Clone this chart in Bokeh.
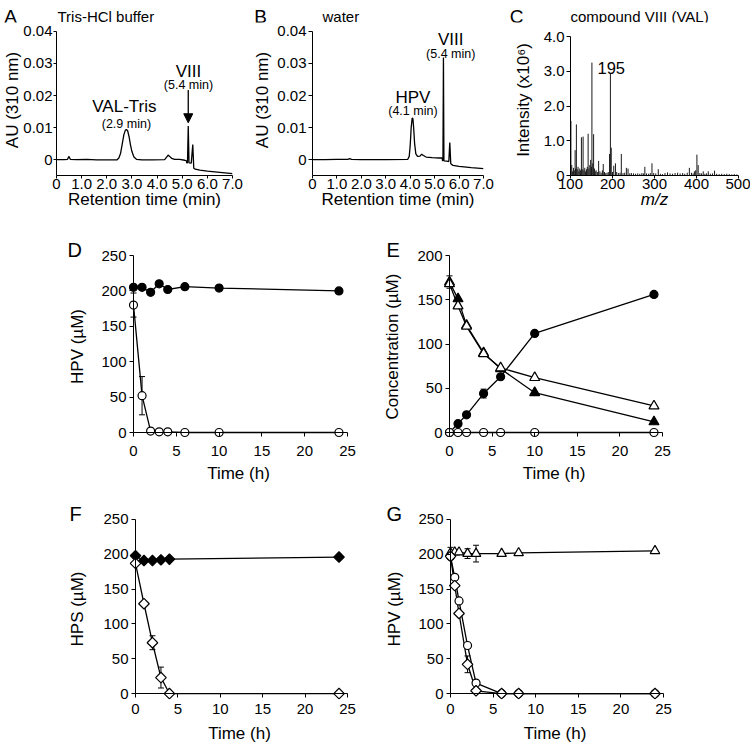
from bokeh.plotting import figure
from bokeh.layouts import column, row
from bokeh.models import (Range1d, FixedTicker, Label, Arrow, NormalHead,
                          Whisker, TeeHead, ColumnDataSource, LinearAxis)
from bokeh.embed import file_html
from bokeh.resources import INLINE

FONT = "Liberation Sans"
TICK_FS = "15px"
TITLE_FS = "17px"
LETTER_FS = "20px"
STRIP_LETTER_FS = "19px"

# ---------------- data ----------------
# Panel A: HPLC trace, Tris-HCl buffer
A_time = [0.00, 0.30, 0.44, 0.49, 0.55, 0.80, 1.20, 1.60, 2.00, 2.40,
          2.48, 2.55, 2.61, 2.68, 2.74, 2.78, 2.83, 2.89, 2.94, 3.00,
          3.08, 3.18, 3.40, 3.80, 4.30, 4.38, 4.44, 4.50, 4.58, 4.70,
          4.90, 5.10, 5.17, 5.18, 5.21, 5.24, 5.27, 5.36, 5.42, 5.46,
          5.52, 5.70, 6.00, 6.50, 7.00]
A_au = [0.0000, 0.0000, 0.0001, 0.0010, 0.0001, 0.0000, 0.0001, -0.0001, -0.0001, -0.0001,
        0.0005, 0.0020, 0.0047, 0.0078, 0.0092, 0.0094, 0.0090, 0.0070, 0.0047, 0.0025,
        0.0008, 0.0001, -0.0001, -0.0001, 0.0000, 0.0008, 0.0014, 0.0010, 0.0004, 0.0001,
        0.0001, -0.0002, -0.0004, -0.0010, -0.0010, 0.0105, -0.0010, -0.0011, 0.0047, -0.0027,
        -0.0030, -0.0033, -0.0036, -0.0040, -0.0044]

# Panel B: HPLC trace, water
B_time = [0.00, 0.50, 1.00, 1.45, 1.52, 1.60, 2.00, 3.00, 3.90, 3.96,
          4.00, 4.04, 4.08, 4.11, 4.14, 4.18, 4.23, 4.30, 4.40, 4.47,
          4.54, 4.65, 4.90, 5.20, 5.31, 5.32, 5.34, 5.36, 5.38, 5.50,
          5.58, 5.62, 5.66, 5.75, 6.00, 6.50, 7.00]
B_au = [0.0000, 0.0000, 0.0001, 0.0001, 0.0003, 0.0001, 0.0000, 0.0000, 0.0001, 0.0010,
        0.0045, 0.0100, 0.0130, 0.0128, 0.0100, 0.0050, 0.0018, 0.0010, 0.0011, 0.0017,
        0.0013, 0.0008, 0.0006, 0.0005, 0.0005, -0.0003, -0.0003, 0.0319, -0.0004, -0.0005,
        -0.0006, 0.0053, -0.0013, -0.0018, -0.0021, -0.0025, -0.0028]

# Panel C: mass spectrum of compound VIII (m/z, intensity x1e6)
C_mz = [101, 103, 105, 107, 109, 111, 112, 114, 116, 118,
        120, 122, 124, 126, 128, 130, 132, 134, 136, 138,
        140, 142, 144, 146, 148, 150, 151, 153, 155, 157,
        159, 161, 164, 167, 170, 173, 176, 178, 181, 184,
        187, 190, 193, 195, 197, 200, 203, 207, 210, 214,
        218, 221, 225, 229, 233, 237, 241, 245, 250, 255,
        260, 265, 270, 274, 277, 281, 286, 290, 294, 298,
        303, 309, 314, 319, 325, 331, 337, 343, 349, 355,
        361, 367, 372, 378, 383, 388, 392, 395, 398, 401,
        404, 408, 412, 416, 420, 424, 428, 433, 438, 443,
        448, 454, 460, 466, 472, 478, 484, 490, 496]
C_int = [1.57, 0.30, 0.12, 0.22, 0.15, 0.73, 0.20, 1.47, 0.18, 0.25,
         0.12, 0.20, 0.15, 1.10, 0.18, 1.12, 0.15, 0.22, 0.12, 0.18,
         0.25, 1.20, 0.20, 0.30, 0.45, 0.25, 3.25, 0.35, 1.19, 0.20,
         0.12, 0.15, 0.10, 0.42, 0.12, 0.08, 0.15, 0.33, 0.10, 0.07,
         0.08, 0.10, 0.62, 2.95, 0.80, 0.10, 0.28, 0.35, 0.10, 0.07,
         0.08, 0.62, 0.07, 0.08, 0.22, 0.20, 0.06, 0.07, 0.06, 0.05,
         0.06, 0.05, 0.07, 0.06, 0.25, 0.06, 0.05, 0.07, 0.35, 0.07,
         0.06, 0.18, 0.05, 0.04, 0.07, 0.09, 0.06, 0.05, 0.07, 0.08,
         0.06, 0.07, 0.05, 0.08, 0.22, 0.08, 0.06, 0.12, 0.15, 0.60,
         0.30, 0.07, 0.06, 0.12, 0.05, 0.06, 0.12, 0.05, 0.06, 0.14,
         0.05, 0.04, 0.05, 0.04, 0.05, 0.04, 0.03, 0.04, 0.03]

# Panel D
D_time = [0, 1, 2, 3, 4, 6, 10, 24]
D_filled = [205, 205, 198, 210, 202, 206, 204, 200]
D_open = [180, 52, 2, 1, 1, 0, 0, 0]
D_open_sd = [17, 27, 0, 0, 0, 0, 0, 0]

# Panel E
E_time = [0, 1, 2, 4, 6, 10, 24]
E_tri_filled = [170, 151, 121, 90, 72, 45, 12]
E_tri_open = [168, 143, 120, 89, 73, 62, 30]
E_circ_filled = [0, 10, 20, 44, 63, 112, 156]
E_circ_open = [0, 0, 0, 0, 0, 0, 0]
E_tri_filled_sd = [7, 0, 0, 0, 0, 0, 0]
E_circ_filled_sd = [0, 0, 0, 5, 0, 0, 0]

# Panel F
F_time = [0, 1, 2, 3, 4, 24]
F_filled = [198, 191, 191, 192, 193, 196]
F_open = [187, 129, 73, 23, 0, 0]
F_open_sd = [0, 0, 10, 15, 0, 0]

# Panel G
G_time = [0, 0.5, 1, 2, 3, 6, 8, 24]
G_tri = [202, 203, 203, 201, 201, 201, 202, 205]
G_tri_sd = [8, 0, 0, 7, 12, 0, 0, 0]
G_circ = [197, 167, 133, 69, 15, 0, 0, 0]
G_diam = [197, 155, 115, 42, 4, 0, 0, 0]
G_diam_sd = [0, 0, 0, 12, 0, 0, 0, 0]

# ticks
RT_ticks = [0, 1, 2, 3, 4, 5, 6, 7]
RT_labels = ["0", "1.0", "2.0", "3.0", "4.0", "5.0", "6.0", "7.0"]
AU_ticks = [0, 0.01, 0.02, 0.03, 0.04]
AU_labels = ["0", "0.01", "0.02", "0.03", "0.04"]
MZ_ticks = [100, 200, 300, 400, 500]
INT_ticks = [0, 1, 2, 3, 4]
INT_labels = ["0", "1.0", "2.0", "3.0", "4.0"]
T_ticks = [0, 5, 10, 15, 20, 25]
C250_ticks = [0, 50, 100, 150, 200, 250]
C200_ticks = [0, 50, 100, 150, 200]


# ---------------- helpers ----------------
def panel(ox, oy, w, h, xmap, ymap, frame, letter=None, letter_left=None):
    (x0, px0), (x1, px1) = xmap
    (y0, py0), (y1, py1) = ymap
    fl, fr, ft, fb = frame
    sx = (px1 - px0) / (x1 - x0)
    sy = (py0 - py1) / (y1 - y0)

    def X(px):
        return x0 + (px - px0) / sx

    def Y(py):
        return y0 + (py0 - py) / sy

    p = figure(width=w, height=h, title=letter,
               x_range=Range1d(X(fl), X(fr)), y_range=Range1d(Y(fb), Y(ft)),
               min_border=1,
               min_border_left=fl - ox, min_border_right=ox + w - fr,
               min_border_top=ft - oy, min_border_bottom=oy + h - fb,
               output_backend="svg", toolbar_location=None, tools="")
    p.xgrid.visible = False
    p.ygrid.visible = False
    p.outline_line_color = None
    p.background_fill_color = "white"
    p.border_fill_color = "white"
    t = p.title
    if t is not None:
        if letter is None:
            t.visible = False
        else:
            t.align = "left"
            t.offset = letter_left - fl
            t.standoff = -12
            t.vertical_align = "bottom"
            t.text_font = FONT
            t.text_font_size = LETTER_FS
            t.text_font_style = "normal"
            t.text_color = "black"
    return p, X, Y


def style_axis(ax, ticks, labels=None, tick_out=4, label_standoff=3,
               title=None, title_standoff=5, title_style="normal",
               line=True, bounds=None):
    ax.ticker = FixedTicker(ticks=ticks)
    if labels is not None:
        ax.major_label_overrides = {t: l for t, l in zip(ticks, labels)}
    if bounds is not None:
        ax.bounds = bounds
    if line:
        ax.axis_line_color = "black"
        ax.axis_line_width = 1
        ax.major_tick_line_color = "black"
        ax.major_tick_line_width = 1
    else:
        ax.axis_line_color = None
        ax.major_tick_line_color = None
    ax.major_tick_in = 0
    ax.major_tick_out = tick_out
    ax.minor_tick_line_color = None
    ax.major_label_standoff = label_standoff
    ax.major_label_text_font = FONT
    ax.major_label_text_font_size = TICK_FS
    ax.major_label_text_color = "black"
    if title is not None:
        ax.axis_label = title
        ax.axis_label_standoff = title_standoff
        ax.axis_label_text_font = FONT
        ax.axis_label_text_font_size = TITLE_FS
        ax.axis_label_text_font_style = title_style
        ax.axis_label_text_color = "black"


def zero_axis(ticks, bounds):
    # axis line + outward ticks drawn at data zero (inside the frame)
    ax = LinearAxis(fixed_location=0, bounds=bounds, ticker=FixedTicker(ticks=ticks))
    ax.axis_line_color = "black"
    ax.axis_line_width = 1
    ax.major_tick_line_color = "black"
    ax.major_tick_line_width = 1
    ax.major_tick_in = -4
    ax.major_tick_out = 0
    ax.minor_tick_line_color = None
    ax.major_label_overrides = {t: "" for t in ticks}
    ax.major_label_text_font_size = "0px"
    ax.major_label_text_color = None
    ax.major_label_standoff = 0
    return ax


def time_axes(p, yticks, ytitle, y_title_std, x_lab_std, x_title_std):
    style_axis(p.xaxis[0], T_ticks, tick_out=0, label_standoff=x_lab_std,
               title="Time (h)", title_standoff=x_title_std, line=False)
    style_axis(p.yaxis[0], yticks, tick_out=0, label_standoff=1,
               title=ytitle, title_standoff=y_title_std, line=False)
    p.add_layout(zero_axis(T_ticks, (0, 25)), "below")
    p.add_layout(zero_axis(yticks, (0, yticks[-1])), "left")


def txt(p, x, y, text, size, align="center", baseline="alphabetic"):
    p.add_layout(Label(x=x, y=y, text=text, text_font=FONT,
                       text_font_size=size, text_align=align,
                       text_baseline=baseline, text_color="black"))


def add_err(p, xs, ys, sd):
    bx = [x for x, s in zip(xs, sd) if s > 0]
    up = [y + s for y, s in zip(ys, sd) if s > 0]
    lo = [y - s for y, s in zip(ys, sd) if s > 0]
    src = ColumnDataSource(dict(base=bx, upper=up, lower=lo))
    p.add_layout(Whisker(source=src, base="base", upper="upper", lower="lower",
                         line_color="black", line_width=1,
                         upper_head=TeeHead(size=6, line_color="black", line_width=1),
                         lower_head=TeeHead(size=6, line_color="black", line_width=1)))


LW = 1.3
MS = 8
DIAMOND = 0.785398


def dots(p, x, y, marker, fill, size=MS, angle=0.0):
    p.scatter(x, y, marker=marker, size=size, fill_color=fill,
              line_color="black", line_width=1.2, angle=angle)


# ---------------- top strip with panel letters and titles (row 1) ----------------
STRIP_H = 23
# frame of the strip spans page pixels 1..749 (x) and 1..22 (y)
strip = figure(width=750, height=STRIP_H, x_range=Range1d(1, 749), y_range=Range1d(0, STRIP_H - 2),
               min_border=1, min_border_left=1, min_border_right=1,
               min_border_top=1, min_border_bottom=1,
               x_axis_location=None, y_axis_location=None,
               output_backend="svg", toolbar_location=None, tools="")
if strip.title is not None:
    strip.title.visible = False
strip.xgrid.visible = False
strip.ygrid.visible = False
strip.outline_line_color = None


def stxt(x, top_y, text, size, align="center"):
    # top_y: baseline in page pixels from the strip's top edge
    txt(strip, x, (STRIP_H - 1) - top_y, text, size, align=align)


stxt(10, 16, "A", STRIP_LETTER_FS)
stxt(57, 16, "Tris-HCl buffer", "15px", align="left")
stxt(260, 16, "B", STRIP_LETTER_FS)
stxt(322, 16, "water", "15px", align="left")
stxt(516, 16, "C", STRIP_LETTER_FS)
stxt(570, 16, "compound VIII (VAL)", "15px", align="left")

# ---------------- Panel A ----------------
pA, XA, YA = panel(0, 23, 250, 197, ((0, 56), (7, 232)), ((0, 160), (0.04, 31)),
                   (56, 232, 24, 176))
style_axis(pA.xaxis[0], RT_ticks, RT_labels, tick_out=3, label_standoff=0,
           title="Retention time (min)", title_standoff=-2)
style_axis(pA.yaxis[0], AU_ticks, AU_labels, tick_out=3, label_standoff=1,
           title="AU (310 nm)", title_standoff=-2, bounds=(YA(176), 0.04))
pA.line(A_time, A_au, line_color="black", line_width=LW)
txt(pA, 2.70, 0.0167, "VAL-Tris", "17px")
txt(pA, 2.78, 0.0112, "(2.9 min)", "12.5px")
txt(pA, 5.25, 0.0276, "VIII", "17px")
txt(pA, 5.25, 0.0233, "(5.4 min)", "12.5px")
pA.add_layout(Arrow(end=NormalHead(size=9, fill_color="black", line_color="black"),
                    x_start=5.24, y_start=0.0217, x_end=5.24, y_end=0.0115,
                    line_color="black", line_width=1.3))

# ---------------- Panel B ----------------
pB, XB, YB = panel(250, 23, 260, 197, ((0, 311), (7, 483)), ((0, 160), (0.04, 31)),
                   (311, 483, 24, 176))
style_axis(pB.xaxis[0], RT_ticks, RT_labels, tick_out=3, label_standoff=0,
           title="Retention time (min)", title_standoff=-2)
style_axis(pB.yaxis[0], AU_ticks, AU_labels, tick_out=4, label_standoff=2,
           title="AU (310 nm)", title_standoff=2, bounds=(YB(176), 0.04))
pB.line(B_time, B_au, line_color="black", line_width=LW)
txt(pB, 5.66, 0.0374, "VIII", "17px")
txt(pB, 5.66, 0.0331, "(5.4 min)", "12.5px")
txt(pB, 4.11, 0.0195, "HPV", "17px")
txt(pB, 4.11, 0.0152, "(4.1 min)", "12.5px")

# ---------------- Panel C ----------------
pC, XC, YC = panel(510, 23, 240, 197, ((100, 569), (500, 738)), ((0, 175), (4, 36)),
                   (569, 738, 24, 175))
style_axis(pC.xaxis[0], MZ_ticks, tick_out=3, label_standoff=0,
           title="m/z", title_standoff=-2, title_style="italic")
style_axis(pC.yaxis[0], INT_ticks, INT_labels, tick_out=4, label_standoff=2,
           title="Intensity (x10\u2076)", title_standoff=8, bounds=(0, 4))
pC.segment(x0=C_mz, y0=[0] * len(C_mz), x1=C_mz, y1=C_int,
           line_color="#1a1a1a", line_width=1)
txt(pC, 197, 3.08, "195", "16.5px")

# ---------------- Panel D ----------------
pD, XD, YD = panel(0, 220, 375, 270, ((0, 133), (25, 347)), ((0, 432), (250, 255)),
                   (127, 349, 254, 438), letter="D", letter_left=67)
time_axes(pD, C250_ticks, "HPV (\u00b5M)", 11, 7, 5)
pD.line(D_time, D_filled, line_color="black", line_width=LW)
pD.line(D_time, D_open, line_color="black", line_width=LW)
add_err(pD, D_time, D_open, D_open_sd)
dots(pD, D_time, D_filled, "circle", "black")
dots(pD, D_time, D_open, "circle", "white")

# ---------------- Panel E ----------------
pE, XE, YE = panel(375, 220, 375, 270, ((0, 449), (25, 662)), ((0, 432), (200, 255)),
                   (443, 664, 254, 438), letter="E", letter_left=386)
time_axes(pE, C200_ticks, "Concentration (\u00b5M)", 12, 7, 5)
pE.line(E_time, E_tri_open, line_color="black", line_width=LW)
pE.line(E_time, E_tri_filled, line_color="black", line_width=LW)
pE.line(E_time, E_circ_filled, line_color="black", line_width=LW)
pE.line(E_time, E_circ_open, line_color="black", line_width=LW)
add_err(pE, E_time, E_tri_filled, E_tri_filled_sd)
add_err(pE, E_time, E_circ_filled, E_circ_filled_sd)
dots(pE, E_time, E_tri_filled, "triangle", "black", size=10)
dots(pE, E_time, E_tri_open, "triangle", "white", size=10)
dots(pE, E_time, E_circ_filled, "circle", "black")
dots(pE, E_time, E_circ_open, "circle", "white")

# ---------------- Panel F ----------------
pF, XF, YF = panel(0, 490, 375, 255, ((0, 135), (25, 347)), ((0, 695), (250, 519)),
                   (129, 349, 518, 701), letter="F", letter_left=69)
time_axes(pF, C250_ticks, "HPS (\u00b5M)", 13, 4, 7)
pF.line(F_time, F_filled, line_color="black", line_width=LW)
pF.line(F_time, F_open, line_color="black", line_width=LW)
add_err(pF, F_time, F_open, F_open_sd)
dots(pF, F_time, F_filled, "square", "black", size=7.5, angle=DIAMOND)
dots(pF, F_time, F_open, "square", "white", size=7.5, angle=DIAMOND)

# ---------------- Panel G ----------------
pG, XG, YG = panel(375, 490, 375, 255, ((0, 450), (25, 663)), ((0, 695), (250, 519)),
                   (444, 665, 518, 701), letter="G", letter_left=386)
time_axes(pG, C250_ticks, "HPV (\u00b5M)", 11, 4, 7)
pG.line(G_time, G_tri, line_color="black", line_width=LW)
pG.line(G_time, G_circ, line_color="black", line_width=LW)
pG.line(G_time, G_diam, line_color="black", line_width=LW)
add_err(pG, G_time, G_tri, G_tri_sd)
add_err(pG, G_time, G_diam, G_diam_sd)
dots(pG, G_time, G_tri, "triangle", "white", size=9.5)
dots(pG, G_time, G_circ, "circle", "white")
dots(pG, G_time, G_diam, "square", "white", size=7.5, angle=DIAMOND)

layout = column(strip, row(pA, pB, pC), row(pD, pE), row(pF, pG))
open("out.html", "w").write(file_html(layout, INLINE))
